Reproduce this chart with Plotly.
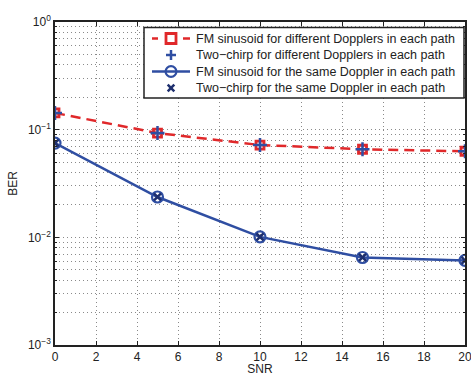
import plotly.graph_objects as go

snr = [0, 5, 10, 15, 20]
fm_diff = [0.143, 0.093, 0.072, 0.0658, 0.063]
chirp_diff = [0.143, 0.093, 0.072, 0.0658, 0.063]
fm_same = [0.075, 0.0237, 0.0101, 0.0065, 0.0061]
chirp_same = [0.075, 0.0237, 0.0101, 0.0065, 0.0061]

series_names = [
    "FM sinusoid for different Dopplers in each path",
    "Two−chirp for different Dopplers in each path",
    "FM sinusoid for the same Doppler in each path",
    "Two−chirp for the same Doppler in each path",
]

xticks = list(range(0, 21, 2))
decades = [1e-3, 1e-2, 1e-1, 1e0]
dec_labels = ["10<sup>−3</sup>", "10<sup>−2</sup>", "10<sup>−1</sup>", "10<sup>0</sup>"]

RED = "#E0282A"
BLUE = "#2F4EA2"
NAVY = "#1E2F6E"
INK = "#222222"
GRID = "#8a8a8a"
FONT = "Liberation Sans, Arial, sans-serif"

minor_vals = []
for d in decades[:-1]:
    for m in range(2, 10):
        minor_vals.append(d * m)

# plot area in pixels (margins)
PL, PR, PT, PB = 55, 465, 22, 345
W, H = 471, 376

styles = [
    dict(mode="lines+markers", line=dict(color=RED, width=2.5, dash="10px,6px"),
         marker=dict(symbol="square-open", size=8, color=RED, line=dict(width=2.8, color=RED))),
    dict(mode="markers",
         marker=dict(symbol="cross-thin-open", size=10, color=BLUE, line=dict(width=2.5, color=BLUE))),
    dict(mode="lines+markers", line=dict(color=BLUE, width=2.5),
         marker=dict(symbol="circle-open", size=11, color=BLUE, line=dict(width=2.2, color=BLUE))),
    dict(mode="markers",
         marker=dict(symbol="x-thin-open", size=7, color=NAVY, line=dict(width=2.5, color=NAVY))),
]
values = [fm_diff, chirp_diff, fm_same, chirp_same]

fig = go.Figure()
for name, vals, st in zip(series_names, values, styles):
    fig.add_trace(go.Scatter(x=snr, y=vals, name=name, showlegend=False, hoverinfo="skip", **st))


# ---- hand-drawn legend in paper space (pixel positions converted) ----
def px(p):
    return (p - PL) / (PR - PL)


def py(p):
    return 1 - (p - PT) / (PB - PT)


L_LEFT, L_RIGHT, L_TOP, L_BOTTOM = 144, 464, 27.5, 98
rows = [38.5, 55, 71.5, 88]
sym_x0, sym_xm, sym_x1, text_x = 152, 171, 190, 194


def seg(x0, y0, x1, y1, color, width):
    fig.add_shape(type="line", xref="paper", yref="paper", layer="above",
                  x0=px(x0), y0=py(y0), x1=px(x1), y1=py(y1),
                  line=dict(color=color, width=width))


fig.add_shape(type="rect", xref="paper", yref="paper", layer="above",
              x0=px(L_LEFT), x1=px(L_RIGHT), y0=py(L_BOTTOM), y1=py(L_TOP),
              fillcolor="white", line=dict(color=INK, width=1.5))

# row 1: red dashes + square
r = rows[0]
seg(sym_x0, r, 158, r, RED, 2.5)
seg(183, r, sym_x1, r, RED, 2.5)
fig.add_shape(type="rect", xref="paper", yref="paper", layer="above",
              x0=px(sym_xm - 5), x1=px(sym_xm + 5), y0=py(r + 5), y1=py(r - 5),
              fillcolor="white", line=dict(color=RED, width=2.8))
# row 2: plus
r = rows[1]
seg(sym_xm - 5, r, sym_xm + 5, r, BLUE, 2.5)
seg(sym_xm, r - 5, sym_xm, r + 5, BLUE, 2.5)
# row 3: blue line + circle
r = rows[2]
seg(sym_x0, r, sym_x1, r, BLUE, 2.5)
fig.add_shape(type="circle", xref="paper", yref="paper", layer="above",
              x0=px(sym_xm - 5.4), x1=px(sym_xm + 5.4), y0=py(r + 5.4), y1=py(r - 5.4),
              fillcolor="rgba(0,0,0,0)", line=dict(color=BLUE, width=2.2))
# row 4: x
r = rows[3]
seg(sym_xm - 3.3, r - 3.3, sym_xm + 3.3, r + 3.3, NAVY, 2.5)
seg(sym_xm - 3.3, r + 3.3, sym_xm + 3.3, r - 3.3, NAVY, 2.5)

for name, ry in zip(series_names, rows):
    fig.add_annotation(x=px(text_x), y=py(ry), xref="paper", yref="paper", text=name,
                       showarrow=False, xanchor="left", yanchor="middle",
                       font=dict(family=FONT, size=12.5, color=INK))

axis_common = dict(
    showline=True, linecolor=INK, linewidth=1.5, mirror="ticks",
    ticks="inside", ticklen=4, tickcolor=INK,
    showgrid=True, gridcolor=GRID, gridwidth=1, griddash="1px,3px",
    zeroline=False, automargin=False, ticklabeloverflow="allow",
    tickfont=dict(family=FONT, size=12, color=INK),
)

fig.update_layout(
    xaxis=dict(range=[0, 20], tickvals=xticks,
               title=dict(text="SNR", standoff=3, font=dict(family=FONT, size=12, color=INK)),
               **axis_common),
    yaxis=dict(type="log", range=[-3, 0], tickvals=decades, ticktext=dec_labels,
               minor=dict(tickvals=minor_vals, ticks="inside", ticklen=2, tickcolor=INK,
                          showgrid=True, gridcolor=GRID, gridwidth=1, griddash="1px,3px"),
               title=dict(text="BER", standoff=8, font=dict(family=FONT, size=12, color=INK)),
               **axis_common),
    width=W, height=H,
    margin=dict(l=PL, r=W - PR, t=PT, b=H - PB),
    paper_bgcolor="white", plot_bgcolor="white",
    font=dict(family=FONT, size=11, color=INK),
    showlegend=False,
)

fig.write_html("out.html", config={"displayModeBar": False},
               post_script="document.body.style.margin='0';document.body.style.padding='0';")
